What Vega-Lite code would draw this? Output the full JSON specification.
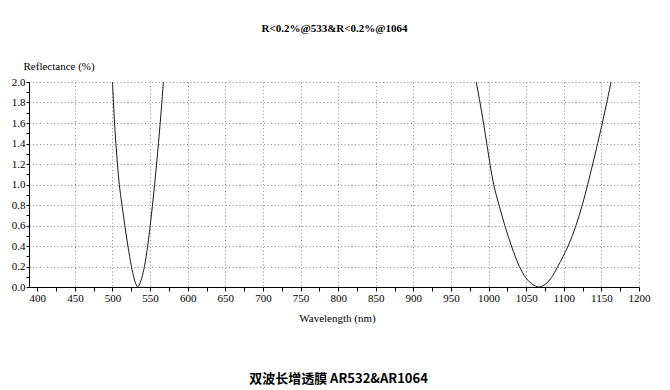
{
  "$schema": "https://vega.github.io/schema/vega-lite/v6.json",
  "width": 610,
  "height": 205,
  "autosize": {"type": "none"},
  "padding": {"left": 29, "top": 82, "right": 31, "bottom": 103},
  "background": "white",
  "config": {
    "view": {"stroke": null},
    "font": "Liberation Serif",
    "axis": {
      "labelFont": "Liberation Serif",
      "labelFontSize": 11,
      "labelColor": "#000",
      "titleFont": "Liberation Serif",
      "titleFontSize": 11,
      "titleFontWeight": "normal",
      "titleColor": "#000",
      "domainColor": "#000",
      "domainWidth": 1,
      "tickColor": "#000",
      "gridColor": "#8c8c8c",
      "gridDash": [1, 2.5],
      "gridWidth": 1
    }
  },
  "data": {
    "values": [
      {"series": "A", "wl": 500.0, "r": 2.0},
      {"series": "A", "wl": 501.3, "r": 1.8},
      {"series": "A", "wl": 502.7, "r": 1.6},
      {"series": "A", "wl": 504.5, "r": 1.4},
      {"series": "A", "wl": 506.6, "r": 1.2},
      {"series": "A", "wl": 509.0, "r": 1.0},
      {"series": "A", "wl": 512.6, "r": 0.8},
      {"series": "A", "wl": 516.4, "r": 0.6},
      {"series": "A", "wl": 520.5, "r": 0.4},
      {"series": "A", "wl": 525.2, "r": 0.2},
      {"series": "A", "wl": 528.5, "r": 0.09},
      {"series": "A", "wl": 531.0, "r": 0.03},
      {"series": "A", "wl": 533.5, "r": 0.0},
      {"series": "A", "wl": 536.2, "r": 0.03},
      {"series": "A", "wl": 539.0, "r": 0.09},
      {"series": "A", "wl": 542.5, "r": 0.2},
      {"series": "A", "wl": 546.8, "r": 0.4},
      {"series": "A", "wl": 550.2, "r": 0.6},
      {"series": "A", "wl": 553.2, "r": 0.8},
      {"series": "A", "wl": 556.0, "r": 1.0},
      {"series": "A", "wl": 558.6, "r": 1.2},
      {"series": "A", "wl": 561.1, "r": 1.4},
      {"series": "A", "wl": 563.4, "r": 1.6},
      {"series": "A", "wl": 565.6, "r": 1.8},
      {"series": "A", "wl": 567.6, "r": 2.0},
      {"series": "B", "wl": 983.6, "r": 2.0},
      {"series": "B", "wl": 988.6, "r": 1.8},
      {"series": "B", "wl": 993.3, "r": 1.6},
      {"series": "B", "wl": 997.6, "r": 1.4},
      {"series": "B", "wl": 1001.9, "r": 1.2},
      {"series": "B", "wl": 1006.8, "r": 1.0},
      {"series": "B", "wl": 1013.8, "r": 0.8},
      {"series": "B", "wl": 1021.6, "r": 0.6},
      {"series": "B", "wl": 1030.4, "r": 0.4},
      {"series": "B", "wl": 1041.0, "r": 0.2},
      {"series": "B", "wl": 1049.5, "r": 0.09},
      {"series": "B", "wl": 1057.5, "r": 0.03},
      {"series": "B", "wl": 1067.0, "r": 0.0},
      {"series": "B", "wl": 1076.0, "r": 0.03},
      {"series": "B", "wl": 1083.5, "r": 0.09},
      {"series": "B", "wl": 1092.0, "r": 0.2},
      {"series": "B", "wl": 1105.8, "r": 0.4},
      {"series": "B", "wl": 1116.2, "r": 0.6},
      {"series": "B", "wl": 1124.6, "r": 0.8},
      {"series": "B", "wl": 1131.8, "r": 1.0},
      {"series": "B", "wl": 1138.5, "r": 1.2},
      {"series": "B", "wl": 1145.0, "r": 1.4},
      {"series": "B", "wl": 1151.3, "r": 1.6},
      {"series": "B", "wl": 1157.2, "r": 1.8},
      {"series": "B", "wl": 1162.8, "r": 2.0}
    ]
  },
  "layer": [
    {
      "transform": [{"filter": "datum.series === 'A'"}],
      "mark": {"type": "line", "color": "#1a1a1a", "strokeWidth": 1, "interpolate": "catmull-rom", "clip": true},
      "encoding": {
        "x": {
          "field": "wl",
          "type": "quantitative",
          "scale": {"domain": [389, 1200], "nice": false, "zero": false},
          "axis": {
            "orient": "bottom",
            "title": "Wavelength (nm)",
            "titleFont": "Liberation Serif",
            "labelFont": "Liberation Serif",
            "titleX": 308,
            "titleY": 31,
            "titleAnchor": null,
            "titleAlign": "center",
            "titleBaseline": "middle",
            "values": [400, 425, 450, 475, 500, 525, 550, 575, 600, 625, 650, 675, 700, 725, 750, 775, 800, 825, 850, 875, 900, 925, 950, 975, 1000, 1025, 1050, 1075, 1100, 1125, 1150, 1175, 1200],
            "labelExpr": "datum.value % 50 === 0 ? datum.label : ''",
            "format": "d",
            "tickSize": 4,
            "labelPadding": 1,
            "labelFlush": false,
            "labelOverlap": false,
            "grid": true,
            "gridOpacity": {"condition": {"test": "datum.value % 50 === 0 && datum.value > 400", "value": 1}, "value": 0}
          }
        },
        "y": {
          "field": "r",
          "type": "quantitative",
          "scale": {"domain": [0, 2], "nice": false},
          "axis": {
            "orient": "left",
            "title": "Reflectance (%)",
            "titleFont": "Liberation Serif",
            "labelFont": "Liberation Serif",
            "titleAngle": 0,
            "titleX": -6,
            "titleY": -16,
            "titleAnchor": null,
            "titleAlign": "left",
            "titleBaseline": "middle",
            "values": [0, 0.1, 0.2, 0.3, 0.4, 0.5, 0.6, 0.7, 0.8, 0.9, 1.0, 1.1, 1.2, 1.3, 1.4, 1.5, 1.6, 1.7, 1.8, 1.9, 2.0],
            "format": ".1f",
            "labelExpr": "round(datum.value * 10) % 2 === 0 ? datum.label : ''",
            "tickSize": 3,
            "labelPadding": 1,
            "labelFlush": false,
            "labelOverlap": false,
            "grid": true,
            "gridOpacity": {"condition": {"test": "round(datum.value * 10) % 2 === 0 && datum.value > 0", "value": 1}, "value": 0}
          }
        }
      }
    },
    {
      "transform": [{"filter": "datum.series === 'B'"}],
      "mark": {"type": "line", "color": "#1a1a1a", "strokeWidth": 1, "interpolate": "catmull-rom", "clip": true},
      "encoding": {
        "x": {
          "field": "wl",
          "type": "quantitative",
          "axis": {
            "orient": "top",
            "title": "R<0.2%@533&R<0.2%@1064",
            "titleFont": "Liberation Serif",
            "titleFontWeight": "bold",
            "titleFontSize": 11,
            "titleX": 305,
            "titleY": -54,
            "titleAnchor": null,
            "titleAlign": "center",
            "titleBaseline": "middle",
            "labels": false,
            "ticks": false,
            "domain": false,
            "grid": false
          }
        },
        "y": {
          "field": "r",
          "type": "quantitative",
          "axis": {
            "orient": "right",
            "title": "双波长增透膜 AR532&AR1064",
            "titleFont": "Noto Sans CJK SC",
            "titleFontWeight": "bold",
            "titleFontSize": 13,
            "titleAngle": 0,
            "titleX": -301,
            "titleY": 296,
            "titleAnchor": null,
            "titleAlign": "center",
            "titleBaseline": "middle",
            "labels": false,
            "ticks": false,
            "domain": false,
            "grid": false
          }
        }
      }
    }
  ],
  "resolve": {"axis": {"x": "independent", "y": "independent"}}
}
